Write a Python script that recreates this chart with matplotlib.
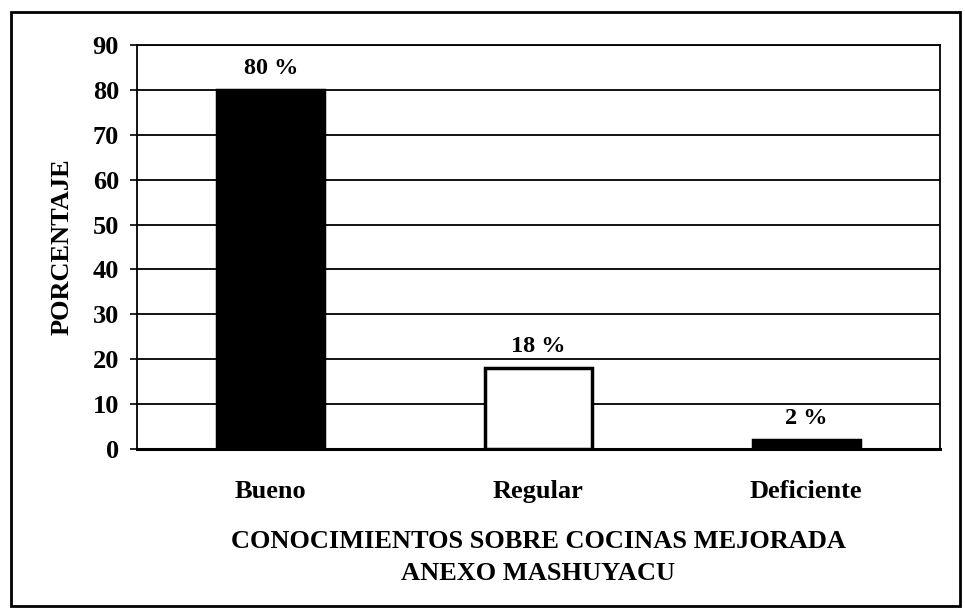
import matplotlib.pyplot as plt
from matplotlib.patches import Rectangle

categorias = ["Bueno", "Regular", "Deficiente"]
porcentajes = [80, 18, 2]
colores = ["black", "white", "black"]
etiquetas = ["80 %", "18 %", "2 %"]
yticks = [0, 10, 20, 30, 40, 50, 60, 70, 80, 90]

plt.rcParams["font.family"] = ["Liberation Serif", "DejaVu Serif"]
plt.rcParams["font.weight"] = "bold"

fig = plt.figure(figsize=(9.65, 6.1), dpi=100)
ax = fig.add_axes([0.142, 0.264, 0.832, 0.662])

x = range(len(categorias))
ax.bar(x, porcentajes, width=0.40, color=colores, edgecolor="black",
       linewidth=2.5, zorder=3)

for xi, v, lab in zip(x, porcentajes, etiquetas):
    ax.annotate(lab, (xi, v), xytext=(0, 8), textcoords="offset points",
                ha="center", va="bottom", fontsize=17.5, fontweight="bold")

ax.set_xlim(-0.5, 2.5)
ax.set_ylim(0, 90)
ax.set_yticks(yticks)
ax.set_yticklabels([str(t) for t in yticks], fontsize=19, fontweight="bold")
ax.set_xticks(list(x))
ax.set_xticklabels(categorias, fontsize=19, fontweight="bold")
ax.tick_params(axis="x", length=0, pad=22)
ax.tick_params(axis="y", length=5, width=1.2, pad=8, direction="out")
ax.grid(axis="y", color="black", linewidth=1.3, zorder=0)

for s in ax.spines.values():
    s.set_linewidth(1.3)
ax.spines["bottom"].set_linewidth(2.2)

ax.set_ylabel("PORCENTAJE", fontsize=19, fontweight="bold", labelpad=14)
ax.set_xlabel("CONOCIMIENTOS SOBRE COCINAS MEJORADA\nANEXO MASHUYACU",
              fontsize=19, fontweight="bold", labelpad=20, linespacing=1.5)

# marco exterior
fig.patches.append(Rectangle((0.011, 0.006), 0.984, 0.974, transform=fig.transFigure,
                             fill=False, edgecolor="black", linewidth=2))

fig.savefig("out.png", dpi=100, facecolor="white")
